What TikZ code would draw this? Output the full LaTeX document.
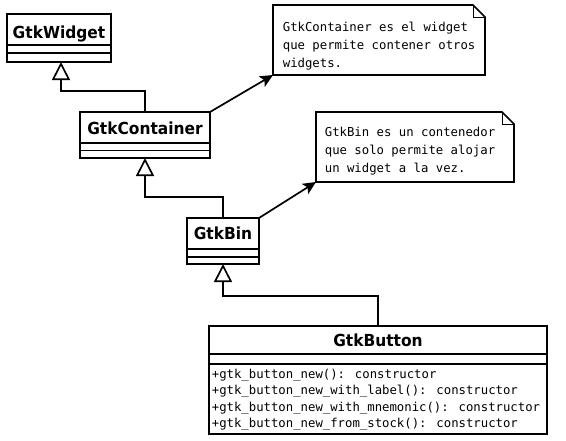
\documentclass[tikz,border=0pt]{standalone}
\usepackage{fontspec}
\newfontfamily\clsfont{DejaVu Sans}[FakeStretch=0.93]
\newfontfamily\notefont{DejaVu Sans Mono}
\usetikzlibrary{arrows.meta,calc}
\begin{document}
\begin{tikzpicture}[x=1pt,y=-1pt,line width=1.7pt,
  clsbox/.style={draw,rectangle,anchor=north west,inner sep=0pt,outer sep=0pt},
  clsname/.style={anchor=base,inner sep=0pt,font=\clsfont\bfseries\fontsize{16.6}{19}\selectfont},
  notebox/.style={rectangle,anchor=north west,inner sep=0pt,outer sep=0pt},
  notetext/.style={anchor=north west,inner sep=0pt,align=left,font=\notefont\fontsize{12.3}{18}\selectfont},
  methtext/.style={anchor=north west,inner sep=0pt,align=left,font=\notefont\fontsize{12.3}{16.5}\selectfont},
  inh/.style={-{Triangle[open,length=18pt,width=18pt,line width=1.7pt]}},
  noteline/.style={-{Stealth[length=13pt,width=12pt,inset=3pt]}}]
\useasboundingbox (0,0) rectangle (566,440);

% GtkWidget
\node[clsbox,minimum width=104pt,minimum height=48pt] (widget) at (7,14) {};
\node[clsname] (widgetname) at (59,38) {GtkWidget};
\draw (7,45) -- (111,45) (7,53) -- (111,53);

% GtkContainer
\node[clsbox,minimum width=130pt,minimum height=46pt] (container) at (80,112) {};
\node[clsname] (containername) at (145,134.5) {GtkContainer};
\draw (80,143) -- (210,143) (80,150.5) -- (210,150.5);

% GtkBin
\node[clsbox,minimum width=72pt,minimum height=46pt] (bin) at (187,218) {};
\node[clsname] (binname) at (223,239) {GtkBin};
\draw (187,249) -- (259,249) (187,257) -- (259,257);

% GtkButton
\node[clsbox,minimum width=338pt,minimum height=108pt] (button) at (209,326) {};
\node[clsname] (buttonname) at (378,346) {GtkButton};
\draw (209,354) -- (547,354) (209,364) -- (547,364);
\node[methtext] (methods) at (211,368) {+gtk\_button\_new(): constructor\\
+gtk\_button\_new\_with\_label(): constructor\\
+gtk\_button\_new\_with\_mnemonic(): constructor\\
+gtk\_button\_new\_from\_stock(): constructor};

% Note 1
\node[notebox,minimum width=212pt,minimum height=70pt] (note1) at (273,5) {};
\draw (note1.south west) -- (note1.north west) -- ($(note1.north east)+(-12,0)$)
  -- ($(note1.north east)+(0,12)$) -- (note1.south east) -- cycle;
\draw[line width=0.8pt] ($(note1.north east)+(-12,0)$) |- ($(note1.north east)+(0,12)$);
\node[notetext] (note1text) at (282,21) {GtkContainer es el widget\\que permite contener otros\\widgets.};

% Note 2
\node[notebox,minimum width=198pt,minimum height=70pt] (note2) at (316,112) {};
\draw (note2.south west) -- (note2.north west) -- ($(note2.north east)+(-12,0)$)
  -- ($(note2.north east)+(0,12)$) -- (note2.south east) -- cycle;
\draw[line width=0.8pt] ($(note2.north east)+(-12,0)$) |- ($(note2.north east)+(0,12)$);
\node[notetext] (note2text) at (324,126) {GtkBin es un contenedor\\que solo permite alojar\\un widget a la vez.};

% Inheritance
\draw[inh] (container.north) -- ++(0,-21) -| ($(widget.south)+(2,0)$);
\draw[inh] (bin.north) -- ++(0,-21) -| (container.south);
\draw[inh] (button.north) -- ++(0,-30) -| (bin.south);

% Note links
\draw[noteline] (container.north east) -- (note1.south west);
\draw[noteline] (bin.north east) -- (note2.south west);
\end{tikzpicture}
\end{document}
